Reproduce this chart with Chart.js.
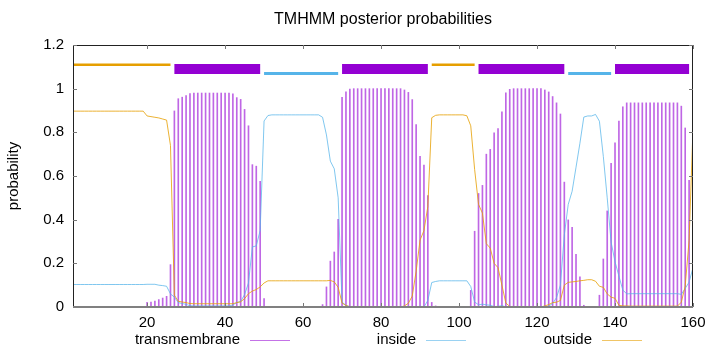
<!DOCTYPE html>
<html>
<head>
<meta charset="utf-8">
<script src="https://cdn.jsdelivr.net/npm/chart.js@4"></script>
<style>
  html, body { margin: 0; padding: 0; background: #fff; }
  #wrap { position: relative; width: 720px; height: 352px; }
</style>
</head>
<body>
<div id="wrap"><canvas id="chart"></canvas></div>
<script>
// posterior probabilities per residue (1..160)
const tmProb = [
  0, 0, 0, 0, 0, 0, 0, 0, 0, 0, 0, 0, 0, 0, 0, 0, 0, 0, 0,
  0.021, 0.023, 0.027, 0.034, 0.041, 0.049, 0.194,
  0.898, 0.954, 0.961, 0.968, 0.978,
  0.98, 0.98, 0.98, 0.98, 0.98, 0.98, 0.98, 0.98, 0.98, 0.98,
  0.976, 0.959, 0.951, 0.905, 0.83, 0.652, 0.645, 0.576, 0.038, 0.003,
  0, 0, 0, 0, 0, 0, 0, 0, 0, 0, 0, 0, 0,
  0.011, 0.092, 0.21, 0.252, 0.402, 0.96, 0.985, 0.998,
  1, 1, 1, 1, 1, 1, 1, 1, 1, 1, 1, 1, 1,
  0.994, 0.983, 0.95, 0.836, 0.69, 0.65, 0.51, 0.021, 0.005,
  0, 0, 0, 0, 0, 0, 0, 0,
  0.076, 0.347, 0.52, 0.557, 0.7, 0.722, 0.798, 0.817, 0.894, 0.981, 0.997,
  1, 1, 1, 1, 1, 1, 1, 1,
  0.994, 0.985, 0.964, 0.935, 0.884, 0.572, 0.399, 0.365, 0.241, 0.138, 0.008,
  0, 0, 0,
  0.054, 0.22, 0.44, 0.658, 0.752, 0.851, 0.917, 0.935,
  0.935, 0.935, 0.935, 0.935, 0.935, 0.935, 0.935, 0.935, 0.935, 0.935, 0.935, 0.935, 0.935,
  0.92, 0.82, 0.58, 0
];

const insideProb = [
  0.103, 0.103, 0.103, 0.103, 0.103, 0.103, 0.103, 0.103, 0.103, 0.103, 0.103, 0.103, 0.103, 0.103, 0.103, 0.103, 0.103, 0.103, 0.103,
  0.104, 0.104, 0.104, 0.1, 0.098, 0.095, 0.06,
  0.045, 0.02, 0.016, 0.012, 0.006,
  0.005, 0.005, 0.005, 0.005, 0.005, 0.005, 0.005, 0.005, 0.005, 0.005,
  0.009, 0.021, 0.025, 0.057, 0.11, 0.275, 0.28, 0.35, 0.852, 0.877,
  0.88, 0.88, 0.88, 0.88, 0.88, 0.88, 0.88, 0.88, 0.88, 0.88, 0.88, 0.88, 0.88,
  0.869, 0.788, 0.668, 0.633, 0.5, 0.022, 0.008, 0.001,
  0, 0, 0, 0, 0, 0, 0, 0, 0, 0, 0, 0, 0,
  0.001, 0, 0, 0, 0.004, 0, 0.03, 0.112, 0.117,
  0.12, 0.12, 0.12, 0.12, 0.12, 0.12, 0.12, 0.12,
  0.094, 0.023, 0.01, 0.013, 0.01, 0.008, 0.002, 0.003, 0.006, 0.001, 0,
  0, 0, 0, 0, 0, 0, 0, 0,
  0.001, 0.004, 0.016, 0.043, 0.1, 0.33, 0.47, 0.53, 0.64, 0.75, 0.87,
  0.875, 0.875, 0.882,
  0.851, 0.69, 0.5, 0.297, 0.208, 0.141, 0.078, 0.06,
  0.061, 0.061, 0.061, 0.061, 0.061, 0.061, 0.061, 0.061, 0.061, 0.061, 0.061, 0.061, 0.061,
  0.058, 0.085, 0.114, 0.18
];

const outsideProb = [
  0.897, 0.897, 0.897, 0.897, 0.897, 0.897, 0.897, 0.897, 0.897, 0.897, 0.897, 0.897, 0.897, 0.897, 0.897, 0.897, 0.897, 0.897, 0.897,
  0.875, 0.872, 0.869, 0.866, 0.861, 0.856, 0.74,
  0.054, 0.026, 0.023, 0.02, 0.016,
  0.015, 0.015, 0.015, 0.015, 0.015, 0.015, 0.015, 0.015, 0.015, 0.015,
  0.015, 0.02, 0.024, 0.038, 0.061, 0.073, 0.08, 0.092, 0.11, 0.12,
  0.12, 0.12, 0.12, 0.12, 0.12, 0.12, 0.12, 0.12, 0.12, 0.12, 0.12, 0.12, 0.12,
  0.12, 0.12, 0.122, 0.115, 0.09, 0.018, 0.007, 0.001,
  0, 0, 0, 0, 0, 0, 0, 0, 0, 0, 0, 0, 0,
  0.005, 0.017, 0.05, 0.164, 0.306, 0.35, 0.46, 0.867, 0.878,
  0.88, 0.88, 0.88, 0.88, 0.88, 0.88, 0.88, 0.876,
  0.83, 0.63, 0.47, 0.43, 0.29, 0.27, 0.2, 0.18, 0.1, 0.018, 0.003,
  0, 0, 0, 0, 0, 0, 0, 0,
  0.005, 0.011, 0.02, 0.022, 0.03, 0.1, 0.113, 0.115, 0.117, 0.12, 0.122,
  0.125, 0.125, 0.118,
  0.095, 0.09, 0.06, 0.045, 0.04, 0.008, 0.005, 0.005,
  0.004, 0.004, 0.004, 0.004, 0.004, 0.004, 0.004, 0.004, 0.004, 0.004, 0.004, 0.004, 0.004,
  0.022, 0.095, 0.306, 0.82
];

// predicted topology, drawn as bars above the curves
const tmSegments = [[27, 49], [70, 92], [105, 127], [140, 159]];
const insideSegments = [[50, 69], [128, 139]];
const outsideSegments = [[1, 26], [93, 104]];
const tmLevel = 1.09;
const insideLevel = 1.07;
const outsideLevel = 1.11;

const xTickValues = [20, 40, 60, 80, 100, 120, 140, 160];
const yTickValues = [0, 0.2, 0.4, 0.6, 0.8, 1, 1.2];

const toPoints = arr => arr.map((v, k) => ({ x: k + 1, y: v }));
const segPoints = (segs, level) => {
    let pts = [];
    segs.forEach(s => {
        pts.push({ x: s[0], y: level }, { x: s[1], y: level }, { x: s[1] + 0.5, y: null });
    });
    return pts;
};

const PURPLE = '#9400d3';
const BLUE = '#56b4e9';
const ORANGE = '#e69f00';
const FONT = '"Liberation Sans", Arial, Helvetica, sans-serif';

Chart.defaults.font.family = FONT;
Chart.defaults.font.size = 15;
Chart.defaults.color = '#000';

const framePlugin = {
    id: 'frame',
    afterDatasetsDraw(chart) {
        const { ctx, chartArea: { left, right, top, bottom }, scales: { x, y } } = chart;
        ctx.save();
        ctx.strokeStyle = '#222';
        ctx.lineWidth = 1;
        ctx.beginPath();
        ctx.moveTo(left + 0.5, bottom);
        ctx.lineTo(left + 0.5, top + 0.5);
        ctx.lineTo(right - 0.5, top + 0.5);
        ctx.lineTo(right - 0.5, bottom);
        ctx.stroke();
        ctx.strokeStyle = '#777';
        ctx.beginPath();
        yTickValues.forEach(v => {
            const py = Math.round(y.getPixelForValue(v)) + 0.5;
            ctx.moveTo(left, py); ctx.lineTo(left + 4, py);
            ctx.moveTo(right, py); ctx.lineTo(right - 4, py);
        });
        xTickValues.forEach(v => {
            const px = Math.round(x.getPixelForValue(v)) + 0.5;
            ctx.moveTo(px, top); ctx.lineTo(px, top + 4);
            ctx.moveTo(px, bottom); ctx.lineTo(px, bottom - 4);
        });
        ctx.stroke();
        ctx.strokeStyle = '#808080';
        ctx.lineWidth = 2;
        ctx.beginPath();
        ctx.moveTo(left, bottom);
        ctx.lineTo(right, bottom);
        ctx.stroke();
        ctx.restore();
    }
};

// title over the plot area, and a gnuplot-style key: label, then a short sample line
const textPlugin = {
    id: 'texts',
    afterDraw(chart) {
        const ctx = chart.ctx;
        const area = chart.chartArea;
        ctx.save();
        ctx.fillStyle = '#000';
        ctx.textBaseline = 'middle';
        ctx.font = '16px ' + FONT;
        ctx.textAlign = 'center';
        ctx.fillText('TMHMM posterior probabilities', (area.left + area.right) / 2, 20);

        const items = [
            { text: 'transmembrane', color: 'rgba(148,0,211,0.55)', right: 240, lineFrom: 250, lineTo: 290 },
            { text: 'inside', color: 'rgba(86,180,233,0.6)', right: 416, lineFrom: 426, lineTo: 466 },
            { text: 'outside', color: 'rgba(230,159,0,0.6)', right: 592, lineFrom: 602, lineTo: 642 }
        ];
        const yMid = 340;
        ctx.font = '15px ' + FONT;
        ctx.textAlign = 'right';
        items.forEach(it => {
            ctx.fillText(it.text, it.right, yMid);
            ctx.strokeStyle = it.color;
            ctx.lineWidth = 1;
            ctx.beginPath();
            ctx.moveTo(it.lineFrom, yMid + 0.5);
            ctx.lineTo(it.lineTo, yMid + 0.5);
            ctx.stroke();
        });
        ctx.restore();
    }
};

const ctx = document.getElementById('chart').getContext('2d');
const chart = new Chart(ctx, {
    type: 'line',
    data: {
        datasets: [
            {
                label: 'tm region', data: segPoints(tmSegments, tmLevel),
                borderColor: PURPLE, borderWidth: 10, pointRadius: 0, spanGaps: false, order: 0
            },
            {
                label: 'inside region', data: segPoints(insideSegments, insideLevel),
                borderColor: BLUE, borderWidth: 3, pointRadius: 0, spanGaps: false, order: 0
            },
            {
                label: 'outside region', data: segPoints(outsideSegments, outsideLevel),
                borderColor: ORANGE, borderWidth: 2.5, pointRadius: 0, spanGaps: false, order: 0
            },
            {
                label: 'outside', data: toPoints(outsideProb),
                borderColor: 'rgba(230,159,0,0.8)', borderWidth: 1, pointRadius: 0, tension: 0, order: 1
            },
            {
                label: 'inside', data: toPoints(insideProb),
                borderColor: 'rgba(86,180,233,0.75)', borderWidth: 1, pointRadius: 0, tension: 0, order: 2
            },
            {
                type: 'bar', label: 'transmembrane', data: toPoints(tmProb),
                backgroundColor: 'rgba(148,0,211,0.6)', borderWidth: 0, barThickness: 1, order: 3
            }
        ]
    },
    options: {
        responsive: true,
        maintainAspectRatio: false,
        animation: false,
        devicePixelRatio: 1,
        layout: { padding: { left: 0, right: 27, top: 45, bottom: 0 } },
        plugins: {
            legend: { display: false },
            tooltip: { enabled: false },
            title: { display: false }
        },
        scales: {
            x: {
                type: 'linear',
                min: 1,
                max: 160,
                offset: false,
                grid: { display: false, drawTicks: false },
                border: { display: false },
                ticks: { padding: 7, autoSkip: false, maxRotation: 0 },
                afterBuildTicks: s => { s.ticks = xTickValues.map(v => ({ value: v })); },
                afterFit: s => { s.height = 45; }
            },
            y: {
                min: 0,
                max: 1.2,
                grid: { display: false, drawTicks: false },
                border: { display: false },
                ticks: { padding: 9, callback: v => String(Number(v.toFixed(2))) },
                afterBuildTicks: s => { s.ticks = yTickValues.map(v => ({ value: v })); },
                title: { display: true, text: 'probability', padding: { top: 5, bottom: 0 } },
                afterFit: s => { s.width = 73; }
            }
        }
    },
    plugins: [framePlugin, textPlugin]
});
</script>
</body>
</html>
